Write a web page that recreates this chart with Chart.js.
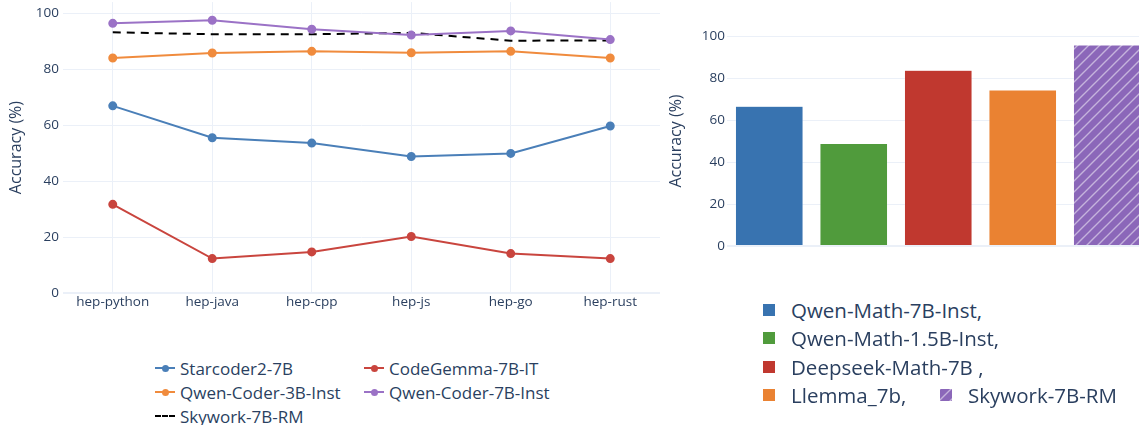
<!DOCTYPE html>
<html>
<head>
<meta charset="utf-8">
<script src="https://cdn.jsdelivr.net/npm/chart.js@4.4.0/dist/chart.umd.min.js"></script>
<style>
  body { margin: 0; width: 1139px; height: 425px; overflow: hidden; background: #fff;
    font-family: "Open Sans", sans-serif; color: #2a3f5f; position: relative; }
  #lineBox { position: absolute; left: 0; top: -10px; width: 680px; height: 330px; }
  #barBox { position: absolute; left: 650px; top: 0; width: 510px; height: 270px; }
  .leg { position: absolute; white-space: nowrap; display: flex; align-items: center; }
  .mk { position: relative; display: inline-block; }
  .ln { position: absolute; left: 0; right: 0; top: 50%; height: 0; }
  .dot { position: absolute; left: 50%; top: 50%; width: 7px; height: 7px; margin: -3.5px 0 0 -3.5px; border-radius: 50%; }
  .sq { display: inline-block; width: 12px; height: 12px; }
</style>
</head>
<body>
<div id="lineBox"><canvas id="lineChart"></canvas></div>
<div id="barBox"><canvas id="barChart"></canvas></div>
<div id="legends"></div>
<script>
// left chart: accuracy per language
const languages = ['hep-python', 'hep-java', 'hep-cpp', 'hep-js', 'hep-go', 'hep-rust'];
const starcoder = [66.9, 55.5, 53.6, 48.8, 49.9, 59.7];
const codegemma = [31.7, 12.3, 14.7, 20.2, 14.1, 12.3];
const qwenCoder3b = [84.0, 85.8, 86.4, 85.9, 86.4, 84.0];
const qwenCoder7b = [96.4, 97.5, 94.3, 92.2, 93.7, 90.6];
const skyworkCode = [93.2, 92.5, 92.5, 93.0, 90.2, 90.3];
const lineNames = ['Starcoder2-7B', 'CodeGemma-7B-IT', 'Qwen-Coder-3B-Inst', 'Qwen-Coder-7B-Inst', 'Skywork-7B-RM'];

// right chart: math accuracy
const mathModels = ['Qwen-Math-7B-Inst,', 'Qwen-Math-1.5B-Inst,', 'Deepseek-Math-7B ,', 'Llemma_7b,', 'Skywork-7B-RM'];
const mathAcc = [66.5, 48.8, 83.7, 74.3, 95.7];

const yTicks = [0, 20, 40, 60, 80, 100];

const gridCol = '#ebf0f8';
const txtCol = '#2a3f5f';
const lineCols = ['#4a7fb8', '#c9453e', '#f08b3d', '#9b72c6', '#000000'];
const barCols = ['#3873b0', '#509b3c', '#c0382f', '#ea8232', '#8b67b9'];

Chart.defaults.font.family = '"Open Sans", sans-serif';
Chart.defaults.color = txtCol;

function keepTicks(scale) {
  scale.ticks = yTicks.map(v => ({ value: v }));
}

function hatch(color) {
  const c = document.createElement('canvas');
  c.width = 11; c.height = 11;
  const g = c.getContext('2d');
  g.fillStyle = color;
  g.fillRect(0, 0, 11, 11);
  g.strokeStyle = 'rgba(255,255,255,0.5)';
  g.lineWidth = 1.4;
  g.beginPath();
  g.moveTo(-1, 12); g.lineTo(12, -1);
  g.moveTo(-6.5, 6.5); g.lineTo(6.5, -6.5);
  g.moveTo(4.5, 17.5); g.lineTo(17.5, 4.5);
  g.stroke();
  return g.createPattern(c, 'repeat');
}

const lineSeries = [starcoder, codegemma, qwenCoder3b, qwenCoder7b, skyworkCode];
const lineSets = lineSeries.map((d, i) => ({
  label: lineNames[i],
  data: d,
  borderColor: lineCols[i],
  backgroundColor: lineCols[i],
  borderWidth: 2,
  pointRadius: i === 4 ? 0 : 3.5,
  pointHoverRadius: 4,
  borderDash: i === 4 ? [8, 6] : [],
  tension: 0
}));
// draw the dashed line beneath the markers of the purple one
lineSets[4].order = 1;

new Chart(document.getElementById('lineChart'), {
  type: 'line',
  data: { labels: languages, datasets: lineSets },
  options: {
    responsive: true,
    maintainAspectRatio: false,
    animation: false,
    layout: { padding: { top: 0, right: 20, left: 0, bottom: 0 } },
    plugins: { legend: { display: false }, tooltip: { enabled: false } },
    scales: {
      x: {
        offset: true,
        grid: { color: gridCol, offset: false, drawTicks: false },
        border: { display: false },
        ticks: { font: { size: 13.5 }, padding: 1, color: txtCol, maxRotation: 0 },
        afterFit: s => { s.height = 27; }
      },
      y: {
        min: 0, max: 104,
        afterBuildTicks: keepTicks,
        grid: { color: gridCol, drawTicks: false, lineWidth: c => c.tick && c.tick.value === 0 ? 2 : 1 },
        border: { display: false },
        ticks: { font: { size: 13.5 }, padding: 4, color: txtCol },
        title: { display: true, text: 'Accuracy (%)', font: { size: 16 }, color: txtCol, padding: { top: 7, bottom: 0 } },
        afterFit: s => { s.width = 63; }
      }
    }
  }
});

const barFill = barCols.map((c, i) => i === 4 ? hatch(c) : c);

new Chart(document.getElementById('barChart'), {
  type: 'bar',
  data: {
    labels: mathModels,
    datasets: [{
      data: mathAcc,
      backgroundColor: barFill,
      borderColor: 'rgba(255,255,255,0.6)',
      borderWidth: 0.5,
      categoryPercentage: 0.8,
      barPercentage: 1.0
    }]
  },
  options: {
    responsive: true,
    maintainAspectRatio: false,
    animation: false,
    layout: { padding: { top: 36, right: 10.5, left: 0, bottom: 24 } },
    plugins: { legend: { display: false }, tooltip: { enabled: false } },
    scales: {
      x: { display: false },
      y: {
        min: 0, max: 100,
        afterBuildTicks: keepTicks,
        grid: { color: gridCol, drawTicks: false, lineWidth: c => c.tick && c.tick.value === 0 ? 2 : 1 },
        border: { display: false },
        ticks: { font: { size: 13.5 }, padding: 2, color: txtCol },
        title: { display: true, text: 'Accuracy (%)', font: { size: 16 }, color: txtCol, padding: { top: 17, bottom: 0 } },
        afterFit: s => { s.width = 77; }
      }
    }
  }
});

// legends as html
const box = document.getElementById('legends');
function lineItem(i, x, y) {
  const d = document.createElement('div');
  d.className = 'leg';
  d.style.left = x + 'px'; d.style.top = (y - 12) + 'px'; d.style.height = '24px';
  d.style.fontSize = '17px';
  const mk = document.createElement('span');
  mk.className = 'mk'; mk.style.width = '20px'; mk.style.height = '24px';
  const ln = document.createElement('span');
  ln.className = 'ln';
  ln.style.borderTop = (i === 4 ? '2px dashed ' : '2px solid ') + lineCols[i];
  ln.style.marginTop = '-1px';
  mk.appendChild(ln);
  if (i !== 4) {
    const dot = document.createElement('span');
    dot.className = 'dot'; dot.style.background = lineCols[i];
    mk.appendChild(dot);
  }
  const t = document.createElement('span');
  t.textContent = lineNames[i]; t.style.marginLeft = '5px';
  d.appendChild(mk); d.appendChild(t);
  box.appendChild(d);
}
lineItem(0, 155, 368);
lineItem(1, 364, 368);
lineItem(2, 155, 392);
lineItem(3, 364, 392);
lineItem(4, 155, 416);

function barItem(i, x, y) {
  const d = document.createElement('div');
  d.className = 'leg';
  d.style.left = x + 'px'; d.style.top = (y - 14) + 'px'; d.style.height = '28px';
  d.style.fontSize = '20.5px';
  const sq = document.createElement('canvas');
  sq.width = 12; sq.height = 12; sq.className = 'sq';
  const g = sq.getContext('2d');
  g.fillStyle = barFill[i];
  g.fillRect(0, 0, 12, 12);
  const t = document.createElement('span');
  t.textContent = mathModels[i]; t.style.marginLeft = '16px';
  d.appendChild(sq); d.appendChild(t);
  box.appendChild(d);
}
barItem(0, 763, 310);
barItem(1, 763, 338);
barItem(2, 763, 367);
barItem(3, 763, 395);
barItem(4, 940, 395);
</script>
</body>
</html>
